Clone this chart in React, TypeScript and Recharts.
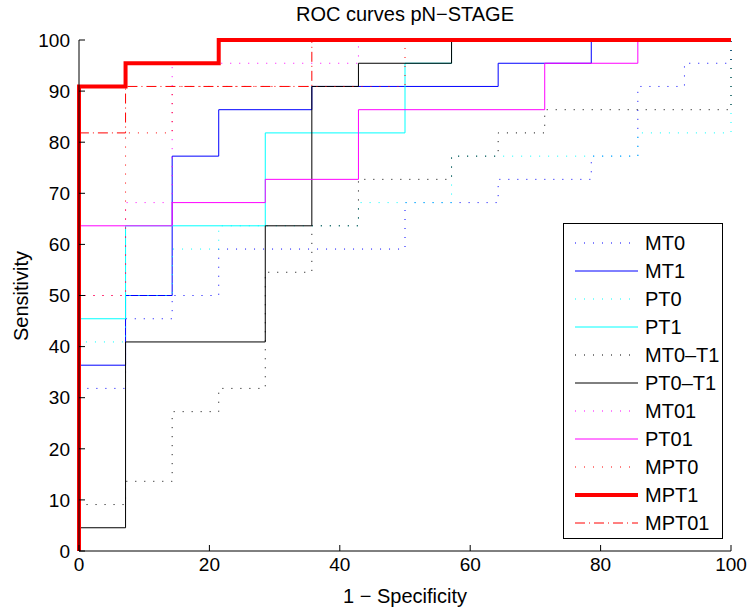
import React from 'react';
import { LineChart, Line, XAxis, YAxis } from 'recharts';

const xTicks = [0, 20, 40, 60, 80, 100];
const yTicks = [0, 10, 20, 30, 40, 50, 60, 70, 80, 90, 100];

// ROC operating points (1 - specificity, sensitivity), in percent
const mt0Fpr = [0, 0, 7.14, 14.29, 21.43, 50, 64.29, 78.57, 85.71, 92.86, 100];
const mt0Tpr = [0, 31.82, 45.45, 50, 59.09, 68.18, 72.73, 77.27, 90.91, 95.45, 100];

const mt1Fpr = [0, 0, 7.14, 14.29, 21.43, 35.71, 64.29, 78.57, 100];
const mt1Tpr = [0, 36.36, 50, 77.27, 86.36, 90.91, 95.45, 100, 100];

const pt0Fpr = [0, 0, 7.14, 14.29, 21.43, 42.86, 57.14, 85.71, 100];
const pt0Tpr = [0, 40.91, 50, 59.09, 63.64, 68.18, 77.27, 81.82, 100];

const pt1Fpr = [0, 0, 7.14, 28.57, 50, 57.14, 100];
const pt1Tpr = [0, 45.45, 63.64, 81.82, 95.45, 100, 100];

const mt0t1Fpr = [0, 0, 7.14, 14.29, 21.43, 28.57, 35.71, 42.86, 57.14, 64.29, 71.43, 100];
const mt0t1Tpr = [0, 9.09, 13.64, 27.27, 31.82, 54.55, 63.64, 72.73, 77.27, 81.82, 86.36, 100];

const pt0t1Fpr = [0, 0, 7.14, 28.57, 35.71, 42.86, 57.14, 100];
const pt0t1Tpr = [0, 4.55, 40.91, 63.64, 90.91, 95.45, 100, 100];

const mt01Fpr = [0, 0, 7.14, 14.29, 42.86, 100];
const mt01Tpr = [0, 50, 68.18, 95.45, 100, 100];

const pt01Fpr = [0, 0, 14.29, 28.57, 42.86, 71.43, 85.71, 100];
const pt01Tpr = [0, 63.64, 68.18, 72.73, 86.36, 95.45, 100, 100];

const mpt0Fpr = [0, 0, 7.14, 14.29, 50, 100];
const mpt0Tpr = [0, 50, 81.82, 90.91, 100, 100];

const mpt1Fpr = [0, 0, 7.14, 21.43, 100];
const mpt1Tpr = [0, 90.91, 95.45, 100, 100];

const mpt01Fpr = [0, 0, 7.14, 35.71, 100];
const mpt01Tpr = [0, 81.82, 90.91, 100, 100];

const DOT = '1 8';
const DASHDOT = '10 4 1 4';

const series = [
  { name: 'MT0', fpr: mt0Fpr, tpr: mt0Tpr, color: '#0000ff', width: 1, dash: DOT },
  { name: 'MT1', fpr: mt1Fpr, tpr: mt1Tpr, color: '#0000ff', width: 1, dash: undefined },
  { name: 'PT0', fpr: pt0Fpr, tpr: pt0Tpr, color: '#00ffff', width: 1, dash: DOT },
  { name: 'PT1', fpr: pt1Fpr, tpr: pt1Tpr, color: '#00ffff', width: 1, dash: undefined },
  { name: 'MT0\u2013T1', fpr: mt0t1Fpr, tpr: mt0t1Tpr, color: '#000000', width: 1, dash: DOT },
  { name: 'PT0\u2013T1', fpr: pt0t1Fpr, tpr: pt0t1Tpr, color: '#000000', width: 1, dash: undefined },
  { name: 'MT01', fpr: mt01Fpr, tpr: mt01Tpr, color: '#ff00ff', width: 1, dash: DOT },
  { name: 'PT01', fpr: pt01Fpr, tpr: pt01Tpr, color: '#ff00ff', width: 1, dash: undefined },
  { name: 'MPT0', fpr: mpt0Fpr, tpr: mpt0Tpr, color: '#ff0000', width: 1, dash: DOT },
  { name: 'MPT1', fpr: mpt1Fpr, tpr: mpt1Tpr, color: '#ff0000', width: 4, dash: undefined },
  { name: 'MPT01', fpr: mpt01Fpr, tpr: mpt01Tpr, color: '#ff0000', width: 1, dash: DASHDOT },
];

const FONT = '"Liberation Sans", Arial, Helvetica, sans-serif';
const FS = 19;
const LFS = 20;

export default function App() {
  return (
    <div
      style={{
        position: 'absolute',
        left: 0,
        top: 0,
        width: 749,
        height: 608,
        background: '#fff',
        fontFamily: FONT,
        color: '#000',
      }}
    >
      <LineChart width={749} height={608} margin={{ top: 40, right: 18, bottom: 0, left: 0 }}>
        <XAxis
          xAxisId="b"
          type="number"
          dataKey="x"
          domain={[0, 100]}
          ticks={xTicks}
          interval={0}
          orientation="bottom"
          height={57}
          tickSize={-6}
          tickMargin={13}
          stroke="#000"
          tick={{ fill: '#000', fontSize: FS, fontFamily: FONT }}
        />
        <XAxis
          xAxisId="t"
          type="number"
          dataKey="x"
          domain={[0, 100]}
          ticks={xTicks}
          interval={0}
          orientation="top"
          height={0}
          tickSize={-6}
          tick={false}
          stroke="#000"
        />
        <YAxis
          yAxisId="l"
          type="number"
          domain={[0, 100]}
          ticks={yTicks}
          interval={0}
          width={79}
          tickSize={-6}
          tickMargin={15}
          stroke="#000"
          tick={{ fill: '#000', fontSize: FS, fontFamily: FONT }}
        />
        <YAxis
          yAxisId="r"
          orientation="right"
          type="number"
          domain={[0, 100]}
          ticks={yTicks}
          interval={0}
          width={0}
          tickSize={-6}
          tick={false}
          stroke="#000"
        />
        {series.map((s) => (
          <Line
            key={s.name}
            xAxisId="b"
            yAxisId="l"
            data={s.fpr.map((x, i) => ({ x, y: s.tpr[i] }))}
            dataKey="y"
            type="stepAfter"
            stroke={s.color}
            strokeWidth={s.width}
            strokeDasharray={s.dash}
            dot={false}
            activeDot={false}
            isAnimationActive={false}
            legendType="none"
          />
        ))}
      </LineChart>

      <div
        style={{
          position: 'absolute',
          left: 0,
          top: 3,
          width: 810,
          textAlign: 'center',
          fontSize: LFS,
          lineHeight: '22px',
        }}
      >
        ROC curves pN{'\u2212'}STAGE
      </div>
      <div
        style={{
          position: 'absolute',
          left: 0,
          top: 585,
          width: 810,
          textAlign: 'center',
          fontSize: LFS,
          lineHeight: '22px',
        }}
      >
        1 {'\u2212'} Specificity
      </div>
      <div
        style={{
          position: 'absolute',
          left: 21,
          top: 296,
          width: 0,
          height: 0,
        }}
      >
        <div
          style={{
            position: 'absolute',
            left: -100,
            top: -11,
            width: 200,
            textAlign: 'center',
            fontSize: LFS,
            lineHeight: '22px',
            transform: 'rotate(-90deg)',
          }}
        >
          Sensitivity
        </div>
      </div>

      <div
        style={{
          position: 'absolute',
          left: 563,
          top: 223,
          width: 158,
          height: 314,
          border: '1px solid #000',
          background: '#fff',
        }}
      >
        {series.map((s, i) => (
          <div
            key={s.name}
            style={{
              position: 'absolute',
              left: 0,
              top: 5 + i * 28,
              height: 28,
              width: 158,
              display: 'flex',
              alignItems: 'center',
            }}
          >
            <svg width={75} height={28} style={{ flex: 'none' }}>
              <line
                x1={11}
                x2={74}
                y1={14}
                y2={14}
                stroke={s.color}
                strokeWidth={s.width}
                strokeDasharray={s.dash}
              />
            </svg>
            <span style={{ fontSize: LFS, marginLeft: 6, whiteSpace: 'nowrap' }}>{s.name}</span>
          </div>
        ))}
      </div>
    </div>
  );
}
